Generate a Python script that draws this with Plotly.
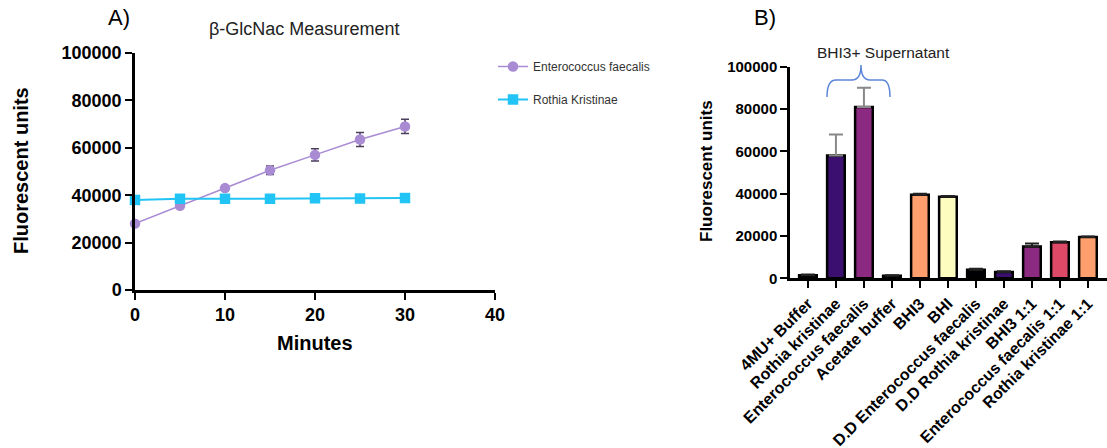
import plotly.graph_objects as go

W, H = 1107, 448

# ---------------- Data ----------------
minutes = [0, 5, 10, 15, 20, 25, 30]
ef_values = [28000, 35500, 43000, 50500, 57000, 63500, 69000]
ef_err = [800, 800, 800, 1800, 2600, 3000, 3000]
rk_values = [38000, 38500, 38500, 38500, 38700, 38600, 38800]
rk_err = [300, 300, 300, 300, 300, 300, 300]

categories = ["4MU+ Buffer", "Rothia kristinae", "Enterococcus faecalis", "Acetate buffer",
              "BHI3", "BHI", "D.D Enterococcus faecalis", "D.D Rothia kristinae",
              "BHI3 1:1", "Enterococcus faecalis 1:1", "Rothia kristinae 1:1"]
bar_values = [1500, 58000, 81000, 1200, 39500, 38500, 4000, 3000, 15000, 17000, 19500]
bar_err = [300, 10000, 9000, 200, 500, 400, 500, 300, 1500, 400, 300]
bar_colors = ["#000004", "#3b0f70", "#8c2981", "#000004", "#fe9f6d", "#fcfdbf",
              "#000004", "#3b0f70", "#8c2981", "#de4968", "#fe9f6d"]
gray_err_cats = ["Rothia kristinae", "Enterococcus faecalis"]

FONT = "Liberation Sans, Arial, sans-serif"

def px(x):
    return x / W

def py(y):
    return 1 - y / H

fig = go.Figure()

# Panel A
fig.add_trace(go.Scatter(
    x=minutes, y=ef_values, name="Enterococcus faecalis", mode="lines+markers",
    line=dict(color="#a98bd4", width=1.5),
    marker=dict(symbol="circle", size=10.5, color="#a98bd4"),
    error_y=dict(type="data", array=ef_err, color="#4b3f5e", thickness=1.5, width=4),
    xaxis="x", yaxis="y", legendgroup="a", cliponaxis=False))
fig.add_trace(go.Scatter(
    x=minutes, y=rk_values, name="Rothia Kristinae", mode="lines+markers",
    line=dict(color="#22c4f5", width=2),
    marker=dict(symbol="square", size=10.5, color="#22c4f5"),
    error_y=dict(type="data", array=rk_err, color="#22c4f5", thickness=1, width=3),
    xaxis="x", yaxis="y", legendgroup="b", cliponaxis=False))

# Panel B bars
fig.add_trace(go.Bar(
    x=categories, y=bar_values, marker=dict(color=bar_colors, line=dict(color="black", width=2.5)),
    width=0.63, xaxis="x2", yaxis="y2", showlegend=False))

# Error bars (up only)
g_x = [c for c in categories if c in gray_err_cats]
g_y = [v for c, v in zip(categories, bar_values) if c in gray_err_cats]
g_e = [e for c, e in zip(categories, bar_err) if c in gray_err_cats]
k_x = [c for c in categories if c not in gray_err_cats]
k_y = [v for c, v in zip(categories, bar_values) if c not in gray_err_cats]
k_e = [e for c, e in zip(categories, bar_err) if c not in gray_err_cats]
fig.add_trace(go.Scatter(
    x=g_x, y=g_y, mode="markers", marker=dict(size=0.1, color="rgba(0,0,0,0)"),
    error_y=dict(type="data", array=g_e, arrayminus=[0] * len(g_e), color="#888888", thickness=2, width=7),
    xaxis="x2", yaxis="y2", showlegend=False))
fig.add_trace(go.Scatter(
    x=k_x, y=k_y, mode="markers", marker=dict(size=0.1, color="rgba(0,0,0,0)"),
    error_y=dict(type="data", array=k_e, arrayminus=[0] * len(k_e), color="#222222", thickness=2, width=7),
    xaxis="x2", yaxis="y2", showlegend=False))

axis_common = dict(showline=True, linecolor="black", linewidth=2.5, ticks="outside",
                   ticklen=7, tickwidth=2, tickcolor="black", showgrid=False, zeroline=False,
                   automargin=False)

fig.update_layout(
    width=W, height=H, margin=dict(l=0, r=0, t=0, b=0, autoexpand=False),
    paper_bgcolor="white", plot_bgcolor="white",
    font=dict(family=FONT, color="black"),
    xaxis=dict(domain=[px(135), px(495)], range=[0, 40], tickvals=[0, 10, 20, 30, 40],
               anchor="y", tickfont=dict(size=18, family=FONT, weight="bold"), **axis_common),
    yaxis=dict(domain=[py(290), py(53)], range=[0, 100000],
               tickvals=[0, 20000, 40000, 60000, 80000, 100000],
               ticktext=["0", "20000", "40000", "60000", "80000", "100000"],
               anchor="x", tickfont=dict(size=18, family=FONT, weight="bold"), **axis_common),
    xaxis2=dict(domain=[px(790), 1.0], range=[-0.64, 10.68], anchor="y2", tickangle=-45,
                type="category", tickfont=dict(size=16, family=FONT, weight="bold"),
                **axis_common),
    yaxis2=dict(domain=[py(278.3), py(66.7)], range=[0, 100000],
                tickvals=[0, 20000, 40000, 60000, 80000, 100000],
                ticktext=["0", "20000", "40000", "60000", "80000", "100000"],
                anchor="x2", tickfont=dict(size=15, family=FONT, weight="bold"), **axis_common),
    legend=dict(x=px(493), y=py(52), xanchor="left", yanchor="top",
                font=dict(size=12, family=FONT, color="#333333"),
                tracegroupgap=14, traceorder="grouped", bgcolor="rgba(0,0,0,0)"),
    bargap=0.3,
)

annotations = [
    dict(text="A)", x=px(119), y=py(17), font=dict(size=22, family=FONT)),
    dict(text="β-GlcNac Measurement", x=px(304), y=py(29), font=dict(size=18, family=FONT, color="#222")),
    dict(text="Minutes", x=px(315), y=py(343), font=dict(size=20, family=FONT, weight="bold")),
    dict(text="Fluorescent units", x=px(21), y=py(171), textangle=-90,
         font=dict(size=20, family=FONT, weight="bold")),
    dict(text="B)", x=px(765), y=py(17), font=dict(size=22, family=FONT)),
    dict(text="BHI3+ Supernatant", x=px(883), y=py(53), font=dict(size=15.5, family=FONT, color="#222")),
    dict(text="Fluorescent units", x=px(706), y=py(171), textangle=-90,
         font=dict(size=17, family=FONT, weight="bold")),
]
for a in annotations:
    a.update(xref="paper", yref="paper", showarrow=False, xanchor="center", yanchor="middle")
fig.update_layout(annotations=annotations)

# Curly brace over supernatant bars
def P(x, y):
    return f"{px(x):.5f},{py(y):.5f}"

brace = (f"M {P(827, 97)} Q {P(827, 80)} {P(836, 80)} L {P(852, 80)} "
         f"Q {P(861, 80)} {P(861, 65)} Q {P(861, 80)} {P(870, 80)} "
         f"L {P(882, 80)} Q {P(890, 80)} {P(890, 97)}")
fig.add_shape(type="path", path=brace, xref="paper", yref="paper",
              line=dict(color="#5b86d8", width=1.5))

fig.write_html("out.html")
